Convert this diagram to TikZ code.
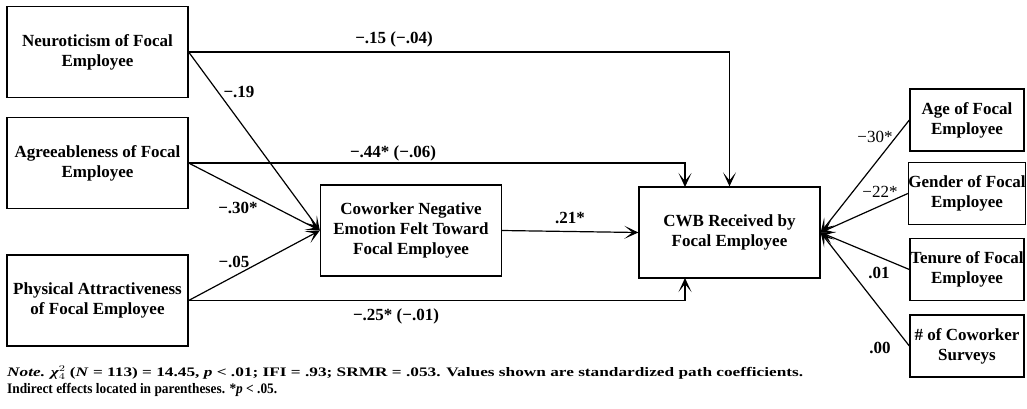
\documentclass[tikz,border=0pt]{standalone}
\usepackage{fontspec}
\setmainfont{Liberation Serif}
\usetikzlibrary{arrows.meta}
\begin{document}
\begin{tikzpicture}[x=1pt,y=-1pt,
  box/.style={draw, line width=1.3pt, font=\fontsize{17}{20}\selectfont\bfseries, align=center, inner sep=0pt},
  bigbox/.style={box, minimum width=181pt, minimum height=91pt},
  ctlbox/.style={box, minimum width=114pt, minimum height=62pt},
  arr/.style={line width=1.2pt, -{Stealth[length=14pt,width=13pt,inset=8pt]}},
  lab/.style={font=\fontsize{17}{20}\selectfont\bfseries, inner sep=0pt},
  labr/.style={font=\fontsize{17}{20}\selectfont, inner sep=0pt},
  notetxt/.style={font=\fontsize{13}{17}\selectfont\bfseries, inner sep=0pt, anchor=base west}]
\useasboundingbox (0,0) rectangle (1027,408);
% boxes
\node[bigbox] (neu) at (97.5,52) {Neuroticism of Focal\\Employee};
\node[bigbox] (agr) at (97.5,163) {Agreeableness of Focal\\Employee};
\node[bigbox] (phy) at (97.5,300.5) {Physical Attractiveness\\of Focal Employee};
\node[bigbox] (cow) at (411,230.5) {Coworker Negative\\Emotion Felt Toward\\Focal Employee};
\node[bigbox] (cwb) at (729.5,232.5) {CWB Received by\\Focal Employee};
\node[ctlbox] (age) at (967,120) {Age of Focal\\Employee};
\node[ctlbox] (gen) at (967,193.5) {Gender of Focal\\Employee};
\node[ctlbox] (ten) at (967,269.5) {Tenure of Focal\\Employee};
\node[ctlbox] (sur) at (967,346) {\# of Coworker\\Surveys};
\coordinate (cwbtl) at (685,187);
\coordinate (cwbbl) at (685,278);
% connectors
\draw[arr] (neu.east) -| (cwb.north);
\draw[arr] (agr.east) -| (cwbtl);
\draw[arr] (phy.east) -| (cwbbl);
\draw[arr] (neu.east) -- (cow.west);
\draw[arr] (agr.east) -- (cow.west);
\draw[arr] (phy.east) -- (cow.west);
\draw[arr] (cow.east) -- (cwb.west);
\draw[arr] (age.west) -- (cwb.east);
\draw[arr] (gen.west) -- (cwb.east);
\draw[arr] (ten.west) -- (cwb.east);
\draw[arr] (sur.west) -- (cwb.east);
% labels
\node[lab] (l1) at (394,39) {−.15 (−.04)};
\node[lab] (l2) at (239,92) {−.19};
\node[lab] (l3) at (393,153) {−.44* (−.06)};
\node[lab] (l4) at (238,208) {−.30*};
\node[lab] (l5) at (234,262) {−.05};
\node[lab] (l6) at (396,316) {−.25* (−.01)};
\node[lab] (l7) at (570,218) {.21*};
\node[labr] (l8) at (875,137) {−30*};
\node[labr] (l9) at (880,192) {−22*};
\node[lab] (l10) at (879,273) {.01};
\node[lab] (l11) at (880,348) {.00};
% note
\node[notetxt] (n1) at (7,376) {\resizebox{796pt}{\height}{\textit{Note.} {\itshape χ}$^{2}_{4}$ (\textit{N} = 113) = 14.45, \textit{p} < .01; IFI = .93; SRMR = .053. Values shown are standardized path coefficients.}};
\node[notetxt, font=\fontsize{14.5}{17}\selectfont\bfseries] (n2) at (7,393) {\resizebox{270pt}{\height}{Indirect effects located in parentheses. *\textit{p} < .05.}};
\end{tikzpicture}
\end{document}
